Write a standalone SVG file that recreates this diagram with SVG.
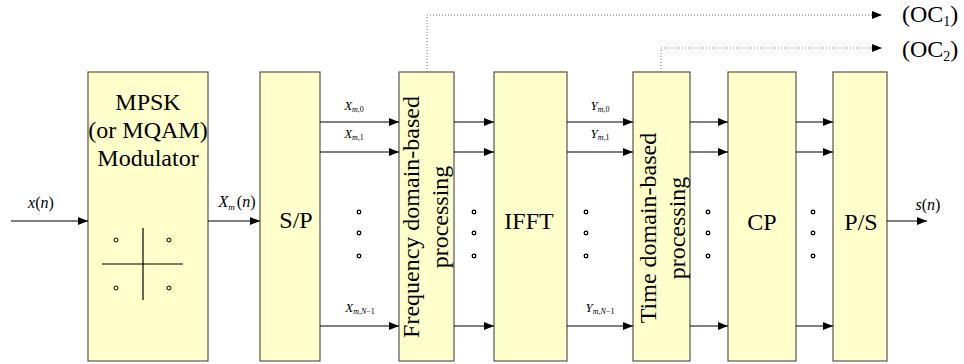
<svg xmlns="http://www.w3.org/2000/svg" width="964" height="364" viewBox="0 0 964 364">
<defs>
<marker id="ah" markerUnits="userSpaceOnUse" markerWidth="10" markerHeight="8" refX="10" refY="4" orient="auto">
<path d="M0,0 L10,4 L0,8 z" fill="#000"/>
</marker>
<style>
text{font-family:'Liberation Serif','DejaVu Serif',serif}
.box{fill:#FFFFCC;stroke:#555;stroke-width:1.2}
.t{font-size:24px;fill:#000}
.m{font-size:13px;fill:#000}
.lbl{font-size:16px;fill:#000}
.i{font-style:italic}
.ln{stroke:#000;stroke-width:1.2;fill:none;marker-end:url(#ah)}
.dot{stroke:#777;stroke-width:1;stroke-dasharray:1,2;fill:none;marker-end:url(#ah)}
.d{fill:none;stroke:#000;stroke-width:1.3}
.c{fill:none;stroke:#000;stroke-width:1}
</style>
</defs>
<rect width="964" height="364" fill="#fff"/>
<g font-family="Liberation Serif, DejaVu Serif, serif">
<g id="modulator">
<rect class="box" x="88" y="72" width="120" height="289"/>
<text class="t" x="148" y="110" text-anchor="middle">MPSK</text>
<text class="t" x="148" y="138" text-anchor="middle">(or MQAM)</text>
<text class="t" x="148" y="166" text-anchor="middle">Modulator</text>
<line x1="143" y1="228" x2="143" y2="300" stroke="#000" stroke-width="1.2"/>
<line x1="102" y1="264" x2="183" y2="264" stroke="#000" stroke-width="1.2"/>
<circle class="c" cx="116" cy="240" r="2"/>
<circle class="c" cx="169" cy="240" r="2"/>
<circle class="c" cx="116" cy="288" r="2"/>
<circle class="c" cx="169" cy="288" r="2"/>
</g>

<g id="sp">
<rect class="box" x="260" y="72" width="60" height="289"/>
<text class="t" x="296" y="228" text-anchor="middle">S/P</text>
</g>

<g id="freq">
<rect class="box" x="399" y="72" width="55" height="289"/>
<text class="t" transform="translate(419,217) rotate(-90)" text-anchor="middle">Frequency domain-based</text>
<text class="t" transform="translate(448,217) rotate(-90)" text-anchor="middle">processing</text>
</g>

<g id="ifft">
<rect class="box" x="494" y="72" width="73" height="289"/>
<text class="t" x="529" y="229" text-anchor="middle">IFFT</text>
</g>

<g id="time">
<rect class="box" x="633" y="72" width="57" height="289"/>
<text class="t" transform="translate(656,228) rotate(-90)" text-anchor="middle">Time domain-based</text>
<text class="t" transform="translate(685,228) rotate(-90)" text-anchor="middle">processing</text>
</g>

<g id="cp">
<rect class="box" x="728" y="72" width="68" height="289"/>
<text class="t" x="762" y="230" text-anchor="middle">CP</text>
</g>

<g id="ps">
<rect class="box" x="833" y="72" width="54" height="289"/>
<text class="t" x="861" y="230" text-anchor="middle">P/S</text>
</g>

<g id="connectors">
<line class="ln" x1="11" y1="221" x2="88" y2="221"/>
<line class="ln" x1="208" y1="221" x2="260" y2="221"/>
<line class="ln" x1="320" y1="122" x2="399" y2="122"/>
<line class="ln" x1="320" y1="152" x2="399" y2="152"/>
<line class="ln" x1="320" y1="326" x2="399" y2="326"/>
<line class="ln" x1="454" y1="122" x2="494" y2="122"/>
<line class="ln" x1="454" y1="152" x2="494" y2="152"/>
<line class="ln" x1="454" y1="326" x2="494" y2="326"/>
<line class="ln" x1="567" y1="122" x2="633" y2="122"/>
<line class="ln" x1="567" y1="152" x2="633" y2="152"/>
<line class="ln" x1="567" y1="326" x2="633" y2="326"/>
<line class="ln" x1="690" y1="122" x2="728" y2="122"/>
<line class="ln" x1="690" y1="152" x2="728" y2="152"/>
<line class="ln" x1="690" y1="326" x2="728" y2="326"/>
<line class="ln" x1="796" y1="122" x2="833" y2="122"/>
<line class="ln" x1="796" y1="152" x2="833" y2="152"/>
<line class="ln" x1="796" y1="326" x2="833" y2="326"/>
<line class="ln" x1="887" y1="221" x2="927" y2="221"/>
<path class="dot" d="M427,72 V15 H882"/>
<path class="dot" d="M661,72 V48 H882"/>
</g>

<g id="dots">
<circle class="d" cx="359" cy="212" r="1.8"/><circle class="d" cx="359" cy="233" r="1.8"/><circle class="d" cx="359" cy="256" r="1.8"/>
<circle class="d" cx="474" cy="212" r="1.8"/><circle class="d" cx="474" cy="233" r="1.8"/><circle class="d" cx="474" cy="256" r="1.8"/>
<circle class="d" cx="586" cy="212" r="1.8"/><circle class="d" cx="586" cy="233" r="1.8"/><circle class="d" cx="586" cy="256" r="1.8"/>
<circle class="d" cx="708" cy="212" r="1.8"/><circle class="d" cx="708" cy="233" r="1.8"/><circle class="d" cx="708" cy="256" r="1.8"/>
<circle class="d" cx="813" cy="212" r="1.8"/><circle class="d" cx="813" cy="233" r="1.8"/><circle class="d" cx="813" cy="256" r="1.8"/>
</g>

<g id="labels">
<text class="lbl" x="41" y="208" text-anchor="middle"><tspan class="i">x</tspan>(<tspan class="i">n</tspan>)</text>
<text class="lbl" x="237" y="207" text-anchor="middle"><tspan class="i">X</tspan><tspan class="i" font-size="9" dy="3">m</tspan><tspan dy="-3" dx="2">(<tspan class="i">n</tspan>)</tspan></text>
<text class="lbl" x="928" y="210" text-anchor="middle"><tspan class="i">s</tspan>(<tspan class="i">n</tspan>)</text>
<text class="m" x="354" y="110" text-anchor="middle"><tspan class="i">X</tspan><tspan font-size="8" dy="2"><tspan class="i">m</tspan>,0</tspan></text>
<text class="m" x="354" y="138" text-anchor="middle"><tspan class="i">X</tspan><tspan font-size="8" dy="2"><tspan class="i">m</tspan>,1</tspan></text>
<text class="m" x="360" y="312" text-anchor="middle"><tspan class="i">X</tspan><tspan font-size="8" dy="2"><tspan class="i">m</tspan>,<tspan class="i">N</tspan>−1</tspan></text>
<text class="m" x="600" y="110" text-anchor="middle"><tspan class="i">Y</tspan><tspan font-size="8" dy="2"><tspan class="i">m</tspan>,0</tspan></text>
<text class="m" x="600" y="138" text-anchor="middle"><tspan class="i">Y</tspan><tspan font-size="8" dy="2"><tspan class="i">m</tspan>,1</tspan></text>
<text class="m" x="600" y="312" text-anchor="middle"><tspan class="i">Y</tspan><tspan font-size="8" dy="2"><tspan class="i">m</tspan>,<tspan class="i">N</tspan>−1</tspan></text>
<text class="t" x="902" y="22">(OC<tspan font-size="14" dy="4">1</tspan><tspan dy="-4">)</tspan></text>
<text class="t" x="902" y="57">(OC<tspan font-size="14" dy="4">2</tspan><tspan dy="-4">)</tspan></text>
</g>
</g>
</svg>
